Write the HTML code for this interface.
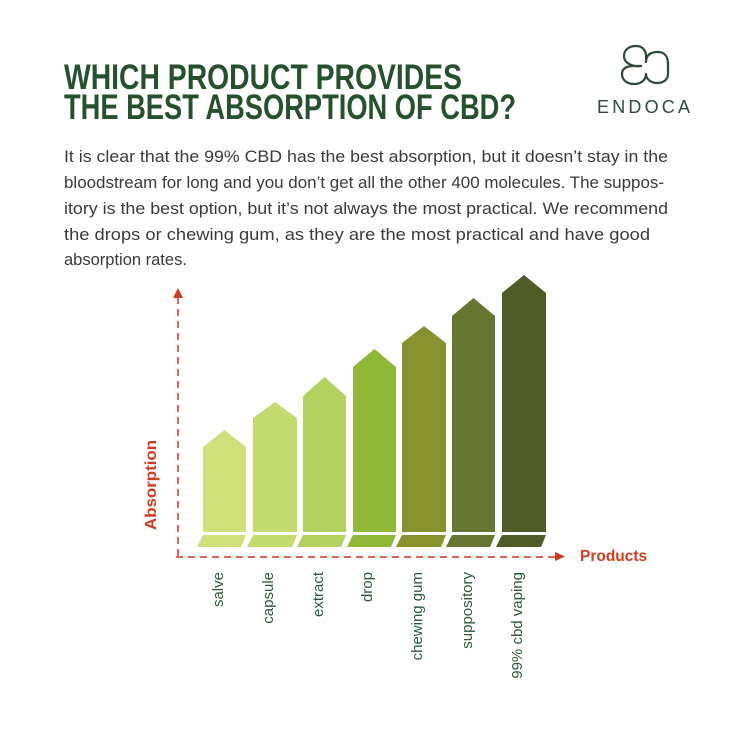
<!DOCTYPE html>
<html><head><style>html,body{margin:0;padding:0;background:#fff}</style></head>
<body>
<svg width="750" height="727" viewBox="0 0 750 727" xmlns="http://www.w3.org/2000/svg" font-family="Liberation Sans, sans-serif">
<rect width="750" height="727" fill="#fff"/>
<g fill="#25522c" font-weight="bold" font-size="35">
<text x="64" y="89" textLength="398" lengthAdjust="spacingAndGlyphs">WHICH PRODUCT PROVIDES</text>
<text x="64" y="119" textLength="452" lengthAdjust="spacingAndGlyphs">THE BEST ABSORPTION OF CBD?</text>
</g>
<g fill="#3a3a3a" font-size="16.5">
<text x="64" y="162" textLength="604" lengthAdjust="spacingAndGlyphs">It is clear that the 99% CBD has the best absorption, but it doesn’t stay in the</text>
<text x="64" y="188" textLength="600" lengthAdjust="spacingAndGlyphs">bloodstream for long and you don’t get all the other 400 molecules. The suppos-</text>
<text x="64" y="214" textLength="604" lengthAdjust="spacingAndGlyphs">itory is the best option, but it’s not always the most practical. We recommend</text>
<text x="64" y="240" textLength="586" lengthAdjust="spacingAndGlyphs">the drops or chewing gum, as they are the most practical and have good</text>
<text x="64" y="265">absorption rates.</text>
</g>
<!-- logo -->
<g fill="none" stroke="#2f4a3a" stroke-width="2.2" stroke-linecap="round">
<path d="M641 66 C634 67 624 64 624 56 C624 49 630 46 636 46 C643 46 646 51 646 56 L646 62"/>
<path d="M646 62 C646 54 652 52 658 52 C665 52 668 57 668 64 L668 74 C668 80 663 83 657 83 C651 83 646 79 646 74"/>
<path d="M646 74 C646 80 641 84 634 84 C627 84 622 80 622 74 C622 68 627 66 634 66 L641 66"/>
</g>
<text x="597" y="113" font-size="18" fill="#2f4a3a" letter-spacing="3.2">ENDOCA</text>
<!-- axes -->
<g stroke="#e0685a" stroke-width="2" stroke-dasharray="7,5" fill="none">
<line x1="178" y1="297" x2="178" y2="557"/>
<line x1="176" y1="557" x2="555" y2="557"/>
</g>
<polygon points="173,298 178,288 183,298" fill="#d13b1f"/>
<polygon points="555,552 565,556.5 555,561" fill="#d13b1f"/>
<text x="580" y="561" font-size="15.5" font-weight="bold" fill="#d13b1f">Products</text>
<text transform="translate(156,530) rotate(-90)" font-size="15.5" font-weight="bold" fill="#d13b1f" textLength="90" lengthAdjust="spacingAndGlyphs">Absorption</text>
<!-- bars -->
<g>
<polygon points="203,532 203,447 224.5,430 246,447 246,532" fill="#cfe07a"/>
<polygon points="203,535 246,535 241,547 197,547" fill="#cfe07a"/>
<polygon points="253,532 253,418 275,402 297,418 297,532" fill="#c3da6c"/>
<polygon points="253,535 297,535 292,547 247,547" fill="#c3da6c"/>
<polygon points="303,532 303,396 324.5,377 346,396 346,532" fill="#b3d15e"/>
<polygon points="303,535 346,535 341,547 297,547" fill="#b3d15e"/>
<polygon points="353,532 353,367 374.5,349 396,367 396,532" fill="#8fb836"/>
<polygon points="353,535 396,535 391,547 347,547" fill="#8fb836"/>
<polygon points="402,532 402,343 424,326 446,343 446,532" fill="#87922f"/>
<polygon points="402,535 446,535 441,547 396,547" fill="#87922f"/>
<polygon points="452,532 452,316 473.5,298 495,316 495,532" fill="#66752f"/>
<polygon points="452,535 495,535 490,547 446,547" fill="#66752f"/>
<polygon points="502,532 502,293 524,275 546,293 546,532" fill="#4f5c25"/>
<polygon points="502,535 546,535 541,547 496,547" fill="#4f5c25"/>
</g>
<g fill="#2a5a3a" font-size="15" text-anchor="end">
<text transform="translate(223,572) rotate(-90)">salve</text>
<text transform="translate(273,572) rotate(-90)">capsule</text>
<text transform="translate(323,572) rotate(-90)">extract</text>
<text transform="translate(372,572) rotate(-90)">drop</text>
<text transform="translate(422,572) rotate(-90)">chewing gum</text>
<text transform="translate(472,572) rotate(-90)">suppository</text>
<text transform="translate(522,572) rotate(-90)">99% cbd vaping</text>
</g>
</svg>
</body></html>
